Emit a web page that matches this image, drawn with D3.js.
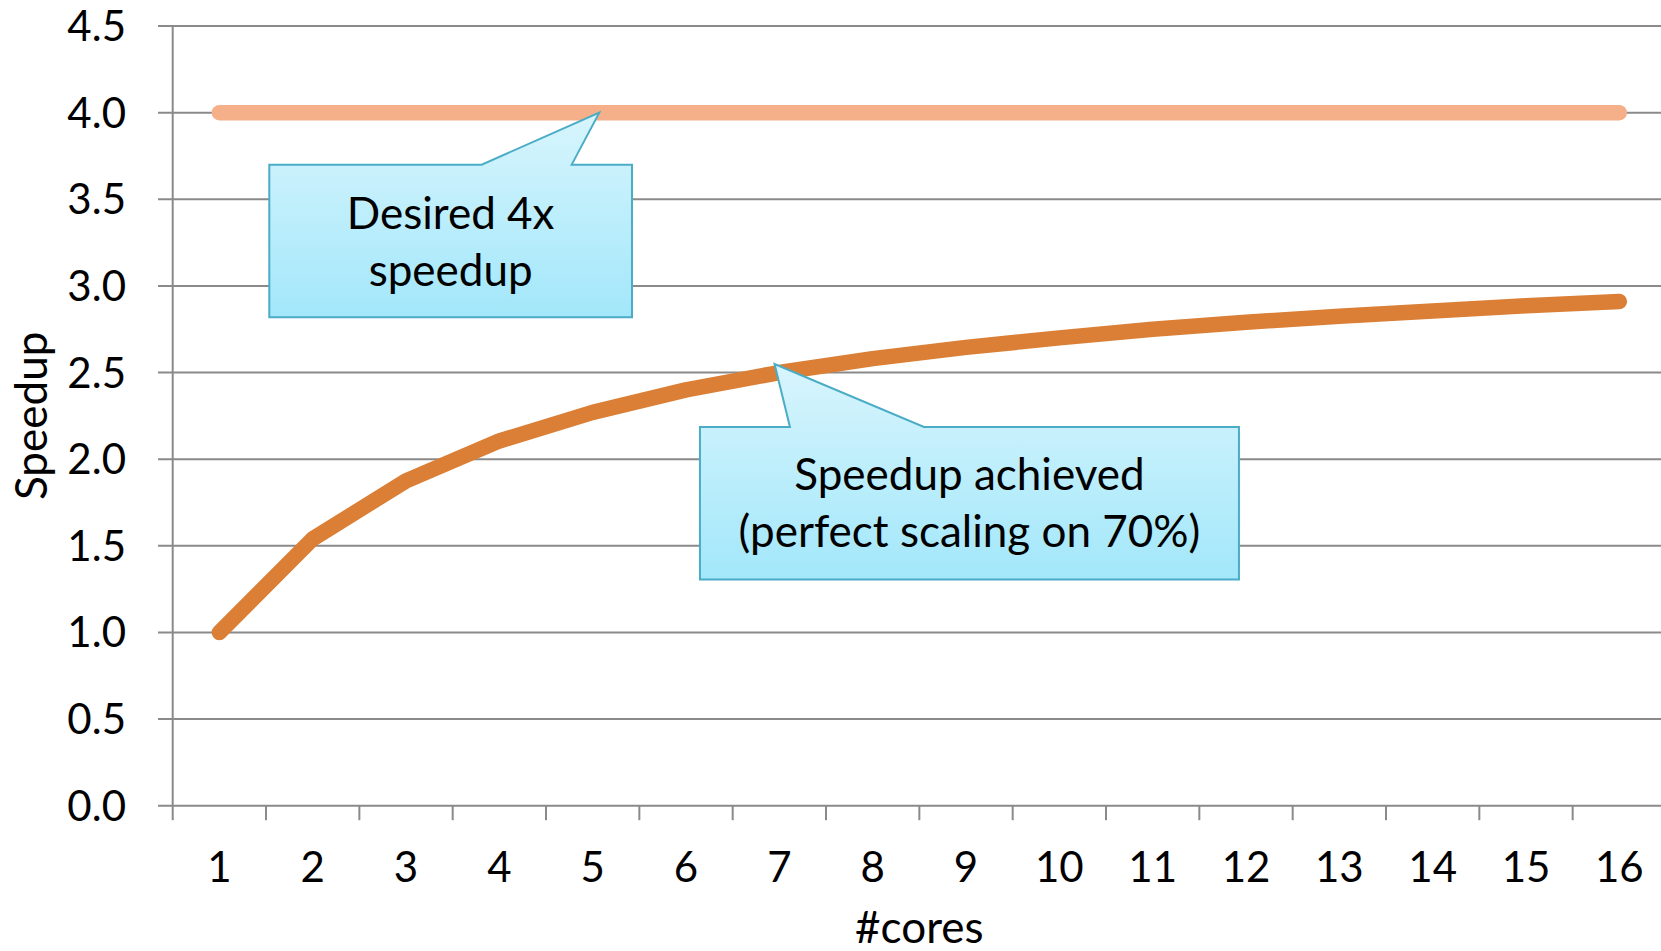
<!DOCTYPE html>
<html>
<head>
<meta charset="utf-8">
<script src="https://cdn.jsdelivr.net/npm/d3@7"></script>
<style>
  html, body { margin: 0; padding: 0; background: #fff; }
  svg { display: block; }
  text { font-family: Lato, "Noto Sans", sans-serif; fill: #000; }
</style>
</head>
<body>
<svg id="chart" width="1661" height="951"></svg>
<script>
// ---- data ----
const cores = [1, 2, 3, 4, 5, 6, 7, 8, 9, 10, 11, 12, 13, 14, 15, 16];
const desired = [4, 4, 4, 4, 4, 4, 4, 4, 4, 4, 4, 4, 4, 4, 4, 4];
const achieved = [1.0, 1.54, 1.875, 2.105, 2.27, 2.40, 2.50, 2.58, 2.645, 2.70, 2.75, 2.79, 2.825, 2.855, 2.885, 2.91];
const yTicks = [0, 0.5, 1.0, 1.5, 2.0, 2.5, 3.0, 3.5, 4.0, 4.5];
const xLabel = "#cores";
const yLabel = "Speedup";
const callouts = [
  { lines: ["Desired 4x", "speedup"], cores: 5, value: 4.0 },
  { lines: ["Speedup achieved", "(perfect scaling on 70%)"], cores: 7, value: 2.5 }
];

// ---- layout ----
const svg = d3.select("#chart");
const pL = 172.7, pR = 1666, pT = 26, pB = 805.7;

const x = d3.scaleLinear().domain([0.5, 16.5]).range([pL, pR]);
const y = d3.scaleLinear().domain([0, 4.5]).range([pB, pT]);

const grey = "#8a8a8a";

// gridlines (include left tick stub)
svg.append("g").selectAll("line").data(yTicks).join("line")
  .attr("x1", pL - 14.7).attr("x2", 1661)
  .attr("y1", d => y(d)).attr("y2", d => y(d))
  .attr("stroke", grey).attr("stroke-width", 2);

// y axis line
svg.append("line").attr("x1", pL).attr("x2", pL)
  .attr("y1", pT).attr("y2", pB)
  .attr("stroke", grey).attr("stroke-width", 2);

// x tick marks at category boundaries
const boundaries = d3.range(0.5, 16.5, 1);
svg.append("g").selectAll("line").data(boundaries).join("line")
  .attr("x1", d => x(d)).attr("x2", d => x(d))
  .attr("y1", pB).attr("y2", pB + 14.5)
  .attr("stroke", grey).attr("stroke-width", 2);

// y tick labels
svg.append("g").selectAll("text").data(yTicks).join("text")
  .attr("x", 126).attr("y", d => y(d) + 15)
  .attr("text-anchor", "end")
  .attr("font-size", 42)
  .text(d => d3.format(".1f")(d));

// x tick labels
svg.append("g").selectAll("text").data(cores).join("text")
  .attr("x", d => x(d)).attr("y", 882)
  .attr("text-anchor", "middle")
  .attr("font-size", 42)
  .text(d => d);

// axis titles
svg.append("text").attr("x", (pL + pR) / 2).attr("y", 943)
  .attr("text-anchor", "middle").attr("font-size", 44).text(xLabel);
svg.append("text")
  .attr("transform", `translate(47,${(pT + pB) / 2}) rotate(-90)`)
  .attr("text-anchor", "middle").attr("font-size", 44).text(yLabel);

// lines
const line = (vals) => d3.line().x((d, i) => x(cores[i])).y(d => y(d))(vals);
svg.append("path").attr("d", line(desired))
  .attr("fill", "none").attr("stroke", "#F6B089").attr("stroke-width", 15.5)
  .attr("stroke-linecap", "round").attr("stroke-linejoin", "round");
svg.append("path").attr("d", line(achieved))
  .attr("fill", "none").attr("stroke", "#DA7F35").attr("stroke-width", 15.5)
  .attr("stroke-linecap", "round").attr("stroke-linejoin", "round");

// callouts
const defs = svg.append("defs");
const grad = defs.append("linearGradient").attr("id", "cg")
  .attr("x1", 0).attr("y1", 0).attr("x2", 0).attr("y2", 1);
grad.append("stop").attr("offset", "0%").attr("stop-color", "#D8F5FD");
grad.append("stop").attr("offset", "100%").attr("stop-color", "#A2E7FA");

// box geometry relative to tip point (annotation layout)
const boxes = [
  { dx: 6.6, dy: 0, L: -330, R: 32.7, T: 52, B: 204.7, bL: -117.6, bR: -27.6, base1: 116, gap: 57 },
  { dx: -4.8, dy: -8.5, L: -74.6, R: 464.4, T: 63, B: 215.5, bL: 15.4, bR: 149.4, base1: 125.5, gap: 57 }
];

callouts.forEach((c, i) => {
  const b = boxes[i];
  const tx = x(c.cores) + b.dx, ty = y(c.value) + b.dy;
  const L = tx + b.L, R = tx + b.R, T = ty + b.T, B = ty + b.B;
  const p = d3.path();
  p.moveTo(L, T); p.lineTo(tx + b.bL, T); p.lineTo(tx, ty); p.lineTo(tx + b.bR, T);
  p.lineTo(R, T); p.lineTo(R, B); p.lineTo(L, B); p.closePath();
  svg.append("path").attr("d", p.toString())
    .attr("fill", "url(#cg)").attr("stroke", "#4BACC6").attr("stroke-width", 2)
    .attr("stroke-linejoin", "miter");
  const g = svg.append("text").attr("text-anchor", "middle").attr("font-size", 44);
  c.lines.forEach((t, j) => {
    g.append("tspan").attr("x", (L + R) / 2).attr("y", ty + b.base1 + j * b.gap).text(t);
  });
});
</script>
</body>
</html>
